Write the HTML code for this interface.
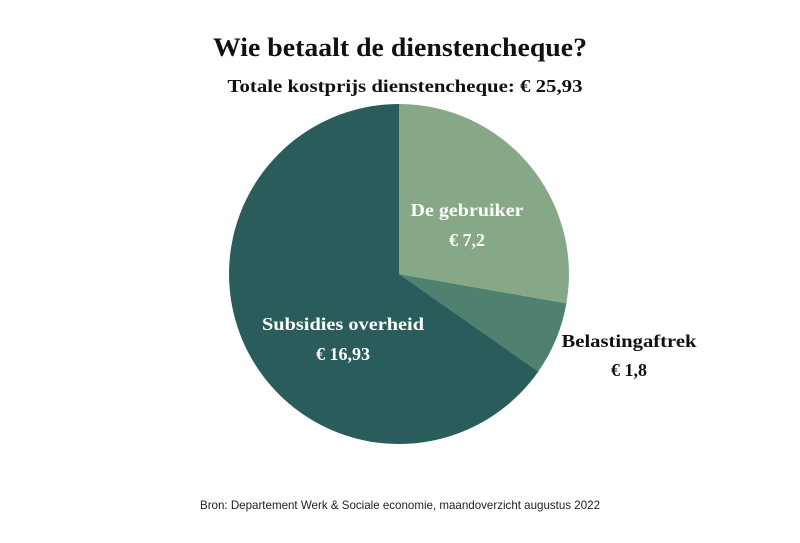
<!DOCTYPE html>
<html><head><meta charset="utf-8"><style>
body{margin:0;background:#fff;width:800px;height:538px;overflow:hidden}
</style></head><body>
<svg width="800" height="538" xmlns="http://www.w3.org/2000/svg">
<rect width="800" height="538" fill="#fff"/>
<text x="400" y="56" text-anchor="middle" font-family="Liberation Serif, serif" font-weight="bold" font-size="26" fill="#111" textLength="374" lengthAdjust="spacingAndGlyphs">Wie betaalt de dienstencheque?</text>
<text x="405" y="92" text-anchor="middle" font-family="Liberation Serif, serif" font-weight="bold" font-size="18" fill="#111" textLength="355" lengthAdjust="spacingAndGlyphs">Totale kostprijs dienstencheque: € 25,93</text>
<path d="M399,274 L399,104 A170,170 0 0 1 566.4,303.4 Z" fill="#87a886"/>
<path d="M399,274 L566.4,303.4 A170,170 0 0 1 538.3,371.5 Z" fill="#508070"/>
<path d="M399,274 L538.3,371.5 A170,170 0 1 1 399,104 Z" fill="#2b5c5c"/>
<g font-family="Liberation Serif, serif" font-weight="bold" text-anchor="middle" lengthAdjust="spacingAndGlyphs">
<text x="467" y="216" font-size="18" fill="#fff" textLength="113" lengthAdjust="spacingAndGlyphs">De gebruiker</text>
<text x="467" y="246" font-size="18" fill="#fff">€ 7,2</text>
<text x="343" y="330" font-size="18" fill="#fff" textLength="162" lengthAdjust="spacingAndGlyphs">Subsidies overheid</text>
<text x="343" y="360" font-size="18" fill="#fff">€ 16,93</text>
<text x="629" y="347" font-size="18" fill="#111" textLength="135" lengthAdjust="spacingAndGlyphs">Belastingaftrek</text>
<text x="629" y="376" font-size="18" fill="#111">€ 1,8</text>
</g>
<text x="400" y="509" text-anchor="middle" font-family="Liberation Sans, sans-serif" font-size="12" fill="#222" textLength="400" lengthAdjust="spacingAndGlyphs">Bron: Departement Werk &amp; Sociale economie, maandoverzicht augustus 2022</text>
</svg>
</body></html>
